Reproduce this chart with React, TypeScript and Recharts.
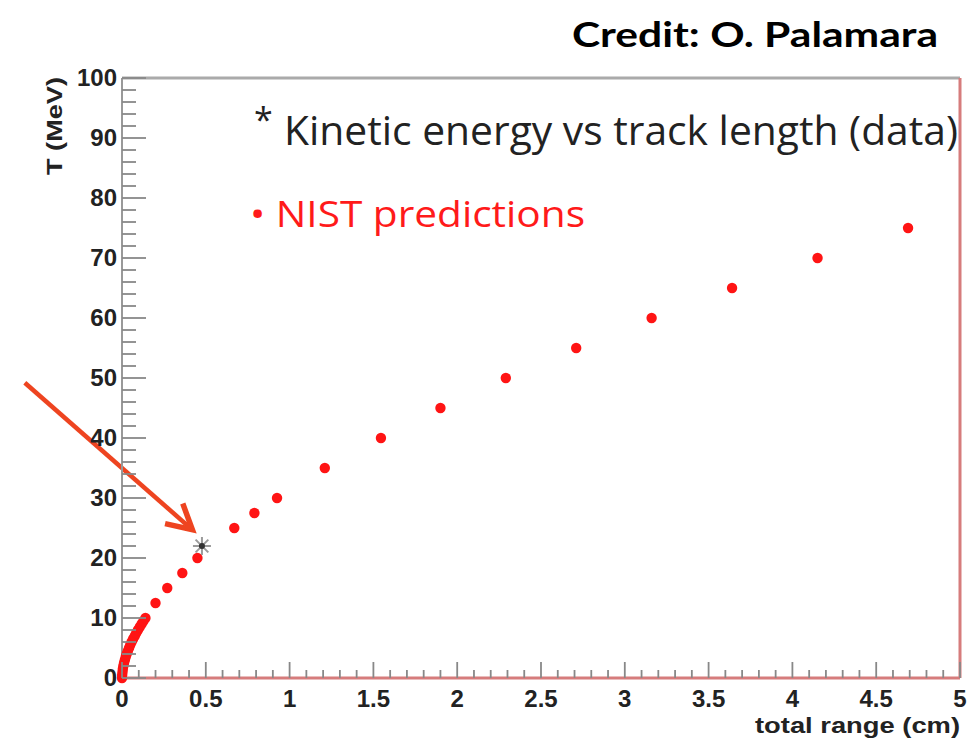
import React from "react";
import { ScatterChart, Scatter, XAxis, YAxis, ReferenceLine } from "recharts";

// NIST predicted proton range (cm) vs kinetic energy (MeV)
const nistEnergy = [
  0, 0.5, 1, 1.5, 2, 2.5, 3, 3.5, 4, 4.5, 5, 5.5, 6, 6.5, 7, 7.5, 8, 8.5, 9, 9.5, 10,
  12.5, 15, 17.5, 20, 25, 27.5, 30, 35, 40, 45, 50, 55, 60, 65, 70, 75,
];
const nistRange = [
  0, 0.001, 0.003, 0.005, 0.008, 0.012, 0.017, 0.022, 0.028, 0.035, 0.042, 0.049, 0.057, 0.066, 0.076, 0.085, 0.095, 0.106, 0.117, 0.128, 0.14,
  0.2, 0.27, 0.36, 0.45, 0.67, 0.79, 0.925, 1.21, 1.545, 1.9, 2.29, 2.71, 3.16, 3.64, 4.15, 4.69,
];

// measured track
const dataEnergy = [22];
const dataRange = [0.477];

const xMajorTicks = [0, 0.5, 1, 1.5, 2, 2.5, 3, 3.5, 4, 4.5, 5];
const xTickLabels = ["0", "0.5", "1", "1.5", "2", "2.5", "3", "3.5", "4", "4.5", "5"];
const yMajorTicks = [0, 10, 20, 30, 40, 50, 60, 70, 80, 90, 100];
const yTickLabels = ["0", "10", "20", "30", "40", "50", "60", "70", "80", "90", "100"];

// arrow annotation (data coords)
const arrowFrom = { x: -0.58, y: 49.2 };
const arrowTo = { x: 0.42, y: 24.7 };

const xTicks = Array.from({ length: 51 }, (_, i) => Math.round(i * 10) / 100);
const yTicks = Array.from({ length: 51 }, (_, i) => i * 2);

const nistData = nistEnergy.map((t, i) => ({ x: nistRange[i], y: t }));
const trackData = dataEnergy.map((t, i) => ({ x: dataRange[i], y: t }));

const tickFont = "'Liberation Sans', Arial, sans-serif";

const XTick = (props: any) => {
  const { x, y, payload } = props;
  const idx = xMajorTicks.findIndex((v) => Math.abs(v - payload.value) < 1e-6);
  const major = idx >= 0;
  return (
    <g>
      <line x1={x} x2={x} y1={y} y2={y - (major ? 16 : 8)} stroke="#888" strokeWidth={1.8} />
      {major && (
        <text x={x} y={y + 29} textAnchor="middle" fontFamily={tickFont} fontWeight="bold" fontSize={24} fill="#222">
          {xTickLabels[idx]}
        </text>
      )}
    </g>
  );
};

const YTick = (props: any) => {
  const { x, y, payload } = props;
  const idx = yMajorTicks.indexOf(payload.value);
  const major = idx >= 0;
  return (
    <g>
      <line x1={x} x2={x + (major ? 24 : 14)} y1={y} y2={y} stroke="#888" strokeWidth={1.8} />
      {major && (
        <text x={x - 5} y={y + 8} textAnchor="end" fontFamily={tickFont} fontWeight="bold" fontSize={24} fill="#222">
          {yTickLabels[idx]}
        </text>
      )}
    </g>
  );
};

const NistDot = (p: any) => <circle cx={p.cx} cy={p.cy} r={5.2} fill="#ff1414" />;

const StarMark = (p: any) => {
  const arms = [0, 45, 90, 135];
  return (
    <g>
      {arms.map((a) => {
        const r = (a * Math.PI) / 180;
        const dx = Math.cos(r) * 9;
        const dy = Math.sin(r) * 9;
        return <line key={a} x1={p.cx - dx} y1={p.cy - dy} x2={p.cx + dx} y2={p.cy + dy} stroke="#9a9a9a" strokeWidth={2} />;
      })}
      <circle cx={p.cx} cy={p.cy} r={3} fill="#333" />
    </g>
  );
};

const Arrow = (p: any) => {
  const { x1, y1, x2, y2 } = p;
  const ang = Math.atan2(y2 - y1, x2 - x1);
  const len = 28;
  const a1 = ang + Math.PI - 0.5;
  const a2 = ang + Math.PI + 0.5;
  return (
    <g>
      <line x1={x1} y1={y1} x2={x2 - Math.cos(ang) * 3} y2={y2 - Math.sin(ang) * 3} stroke="#ee4420" strokeWidth={4.5} />
      <path
        d={`M${x2 + Math.cos(a1) * len},${y2 + Math.sin(a1) * len} L${x2},${y2} L${x2 + Math.cos(a2) * len},${y2 + Math.sin(a2) * len}`}
        fill="none"
        stroke="#ee4420"
        strokeWidth={5.5}
        strokeLinejoin="miter"
      />
    </g>
  );
};

export default function App() {
  return (
    <div style={{ position: "absolute", left: 0, top: 0, width: 969, height: 739, background: "#fff" }}>
      <ScatterChart width={969} height={739} margin={{ top: 78, right: 9, bottom: 31, left: 62 }}>
        <XAxis
          type="number"
          dataKey="x"
          domain={[0, 5]}
          ticks={xTicks}
          interval={0}
          tickSize={0}
          tickMargin={0}
          tickLine={false}
          tick={<XTick />}
          height={30}
          axisLine={{ stroke: "#d67c7c", strokeWidth: 3 }}
        />
        <YAxis
          type="number"
          dataKey="y"
          domain={[0, 100]}
          ticks={yTicks}
          interval={0}
          tickSize={0}
          tickMargin={0}
          tickLine={false}
          tick={<YTick />}
          width={60}
          axisLine={{ stroke: "#999", strokeWidth: 2 }}
        />
        <ReferenceLine y={100} stroke="#aaa" strokeWidth={3} />
        <ReferenceLine x={5} stroke="#d67c7c" strokeWidth={3} />
        <Scatter data={nistData} shape={<NistDot />} isAnimationActive={false} />
        <Scatter data={trackData} shape={<StarMark />} isAnimationActive={false} />
        <ReferenceLine
          segment={[arrowFrom, arrowTo]}
          ifOverflow="visible"
          shape={<Arrow />}
        />
      </ScatterChart>
      <svg width={969} height={739} style={{ position: "absolute", left: 0, top: 0, pointerEvents: "none" }}>
        <text x={572} y={47} fontFamily="Lato, 'Noto Sans', sans-serif" fontWeight="bold" fontSize={34} fill="#000" textLength={366} lengthAdjust="spacingAndGlyphs">
          Credit: O. Palamara
        </text>
        <text x={254} y={132} fontFamily="'Open Sans', 'Noto Sans', sans-serif" fontSize={34} fill="#222">
          *
        </text>
        <text x={284} y={145} fontFamily="'Open Sans', 'Noto Sans', sans-serif" fontSize={40} fill="#222" textLength={674} lengthAdjust="spacingAndGlyphs">
          Kinetic energy vs track length (data)
        </text>
        <text x={250} y={227} fontFamily="'Open Sans', 'Noto Sans', sans-serif" fontSize={36} fill="#ff1a1a" textLength={335} lengthAdjust="spacingAndGlyphs">
          • NIST predictions
        </text>
        <text
          transform="translate(62,126) rotate(-90)"
          textAnchor="middle"
          fontFamily={tickFont}
          fontWeight="bold"
          fontSize={22}
          fill="#222"
          textLength={98}
          lengthAdjust="spacingAndGlyphs"
        >
          T (MeV)
        </text>
        <text x={960} y={733} textAnchor="end" fontFamily={tickFont} fontWeight="bold" fontSize={22} fill="#222" textLength={205} lengthAdjust="spacingAndGlyphs">
          total range (cm)
        </text>
      </svg>
    </div>
  );
}
